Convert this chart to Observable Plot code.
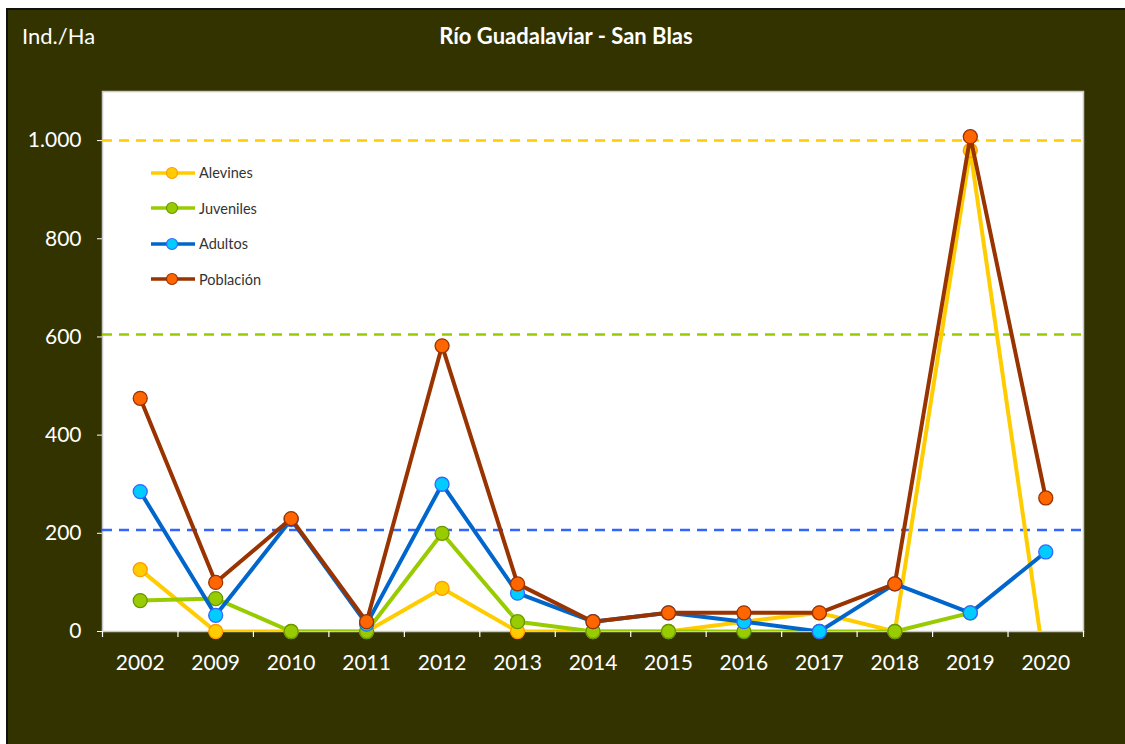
<!DOCTYPE html>
<html><head><meta charset="utf-8">
<script src="https://cdn.jsdelivr.net/npm/d3@7"></script>
<script src="https://cdn.jsdelivr.net/npm/@observablehq/plot@0.6"></script>
<style>
body{margin:0;background:#fff;}
#wrap{position:relative;width:1125px;height:744px;overflow:hidden;font-family:Lato,"Open Sans",sans-serif;}
#bg{position:absolute;left:6px;top:8px;width:1130px;height:750px;background:#333300;border-left:2px solid #111;border-top:2px solid #111;box-sizing:border-box;}
#chart{position:absolute;left:0;top:0;}
#title{position:absolute;left:0;width:1132px;top:22px;text-align:center;color:#fff;font-weight:bold;font-size:22px;}
#ylab{position:absolute;left:22px;top:22px;color:#fff;font-size:22px;}
#legend{position:absolute;left:150px;top:155px;}
.item{display:flex;align-items:center;height:35.5px;font-size:14.5px;color:#333;}
.item svg{margin-right:3px;}
</style>
</head><body>
<div id="wrap">
  <div id="bg"></div>
  <div id="chart"></div>
  <div id="ylab">Ind./Ha</div>
  <div id="title">Río Guadalaviar - San Blas</div>
  <div id="legend"></div>
</div>
<script>
const years = ["2002","2009","2010","2011","2012","2013","2014","2015","2016","2017","2018","2019","2020"];
const alevines  = [126, 0, 0, 0, 88, 0, 0, 0, 20, 38, 0, 980, -85];
const juveniles = [63, 67, 0, 0, 200, 20, 0, 0, 0, 0, 0, 38, null];
const adultos   = [285, 33, 228, 15, 300, 78, 20, 38, 20, 0, 97, 38, 162];
const poblacion = [475, 100, 230, 20, 582, 97, 20, 38, 38, 38, 97, 1008, 272];
const seriesNames = ["Alevines", "Juveniles", "Adultos", "Población"];
const refValues = [1000, 605, 207];
const yTicks = [0, 200, 400, 600, 800, 1000];

const styles = {
  "Alevines":  {line: "#FFCC00", fill: "#FFCC00", stroke: "#FF9900"},
  "Juveniles": {line: "#99CC00", fill: "#99CC00", stroke: "#669900"},
  "Adultos":   {line: "#0066CC", fill: "#00CCFF", stroke: "#3366FF"},
  "Población": {line: "#993300", fill: "#FF6600", stroke: "#993300"}
};
const refColors = ["#FFCC00", "#99CC00", "#3366FF"];
const seriesValues = [alevines, juveniles, adultos, poblacion];

const fmt = d => d3.format(",")(d).replace(/,/g, ".");

const marks = [
  Plot.frame({fill: "white", stroke: "#c8c8c8", strokeWidth: 1.5}),
  ...refValues.map((v, k) => Plot.ruleY([v], {stroke: refColors[k], strokeWidth: 2.5, strokeDasharray: "10,7"})),
  Plot.ruleX(d3.range(years.length + 1), {y1: 0, y2: 0, insetBottom: -6, stroke: "white", strokeWidth: 1.2})
];
seriesNames.forEach((name, k) => {
  const rows = seriesValues[k].map((v, i) => ({x: i + 0.5, v})).filter(d => d.v != null);
  const s = styles[name];
  marks.push(Plot.line(rows, {x: "x", y: "v", stroke: s.line, strokeWidth: 4, clip: true}));
  marks.push(Plot.dot(rows, {x: "x", y: "v", r: 7, fill: s.fill, stroke: s.stroke, strokeWidth: 1.3, filter: d => d.v >= 0}));
});

const chart = Plot.plot({
  width: 1125, height: 744,
  marginLeft: 102, marginRight: 42, marginTop: 91, marginBottom: 113,
  style: {background: "transparent", color: "white", fontSize: "21px", fontFamily: "Lato, 'Open Sans', sans-serif"},
  x: {domain: [0, years.length], ticks: years.map((y, i) => i + 0.5), tickFormat: d => years[Math.round(d - 0.5)], tickSize: 0, tickPadding: 24, label: null},
  y: {domain: [0, 1100], ticks: yTicks, tickFormat: fmt, tickSize: 5, tickPadding: 16, label: null},
  marks
});
document.getElementById("chart").appendChild(chart);

const legend = document.getElementById("legend");
seriesNames.forEach(name => {
  const s = styles[name];
  const div = document.createElement("div");
  div.className = "item";
  div.innerHTML = `<svg width="46" height="16"><line x1="1" x2="45" y1="8" y2="8" stroke="${s.line}" stroke-width="3.5"/><circle cx="22" cy="8" r="5.5" fill="${s.fill}" stroke="${s.stroke}" stroke-width="1.2"/></svg><span>${name}</span>`;
  legend.appendChild(div);
});
</script>
</body></html>
